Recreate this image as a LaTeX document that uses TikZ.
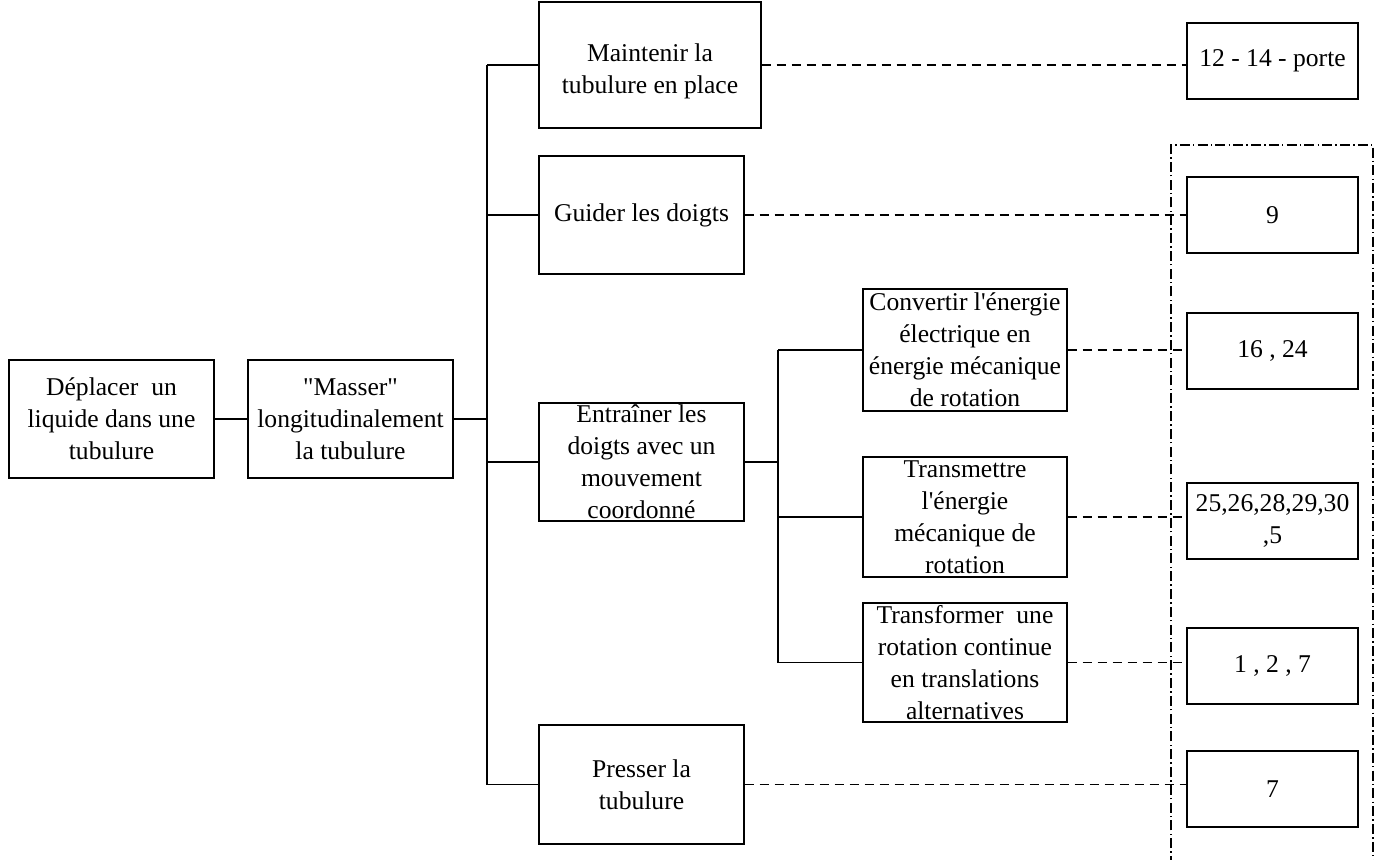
\documentclass[tikz,border=0pt]{standalone}
\usepackage{fontspec}
\setmainfont{Liberation Serif}[Ligatures=TeXOff]
\usepackage{tikz}
\usetikzlibrary{calc,positioning}
\tikzset{
 fa box/.style={draw=black,line width=.6pt,align=center,inner sep=0pt,
                font=\fontsize{12.8}{16}\selectfont},
 fa link/.style={line width=.6pt},
 fa dashed/.style={line width=.6pt,dash pattern=on 4.7pt off 2.8pt},
 fa frame/.style={line width=.6pt,dash pattern=on 5pt off 1.6pt on .7pt off 1.6pt}
}

\begin{document}
\begin{tikzpicture}[x=.5pt,y=-.5pt]
 \useasboundingbox (0,0) rectangle (1382,859);
 % main chain
 \node[fa box,minimum width=102.5pt,minimum height=59pt] (dep) at (111.5,419)
   {D\'eplacer\ \ un\\liquide dans une\\tubulure};
 \node[fa box,minimum width=102.5pt,minimum height=59pt] (mass) at (350.5,419)
   {"Masser"\\longitudinalement\\la tubulure};
 % first level functions
 \node[fa box,minimum width=111pt,minimum height=63pt] (maint) at (650,65)
   {\rule{0pt}{15pt}Maintenir la\\tubulure en place};
 \node[fa box,minimum width=102.5pt,minimum height=59pt] (guid) at (641.5,215)
   {Guider les doigts};
 \node[fa box,minimum width=102.5pt,minimum height=59pt] (entr) at (641.5,462)
   {Entra\^iner les\\doigts avec un\\mouvement\\coordonn\'e};
 \node[fa box,minimum width=102.5pt,minimum height=59.5pt] (press) at (641.5,784.5)
   {Presser la\\tubulure};
 % second level functions
 \node[fa box,minimum width=102pt,minimum height=61pt] (conv) at (965,350)
   {Convertir l'\'energie\\\'electrique en\\\'energie m\'ecanique\\de rotation};
 \node[fa box,minimum width=102pt,minimum height=60pt] (transm) at (965,517)
   {Transmettre\\l'\'energie\\m\'ecanique de\\rotation};
 \node[fa box,minimum width=102pt,minimum height=59.5pt] (transf) at (965,662.5)
   {Transformer\ \ une\\rotation continue\\en translations\\alternatives};
 % solutions
 \node[fa box,minimum width=85.5pt,minimum height=38pt] (sol1) at (1272.5,61) {12 - 14 - porte};
 \node[fa box,minimum width=85.5pt,minimum height=38pt] (sol2) at (1272.5,215) {9};
 \node[fa box,minimum width=85.5pt,minimum height=38pt] (sol3) at (1272.5,351) {16 , 24};
 \node[fa box,minimum width=85.5pt,minimum height=38pt] (sol4) at (1272.5,521) {25,26,28,29,30\\,5};
 \node[fa box,minimum width=85.5pt,minimum height=38pt] (sol5) at (1272.5,666) {1 , 2 , 7};
 \node[fa box,minimum width=85.5pt,minimum height=38pt] (sol6) at (1272.5,789) {7};

 \coordinate (tk1) at (487,0);
 \coordinate (tk2) at (778,0);
 \draw[fa link] (dep) -- (mass);
 \draw[fa link] (mass.east) -- (tk1 |- mass.east);
 \draw[fa link] (tk1 |- maint.west) -- (tk1 |- press.west);
 \foreach \f in {maint,guid,entr,press}
   \draw[fa link] (tk1 |- \f.west) -- (\f.west);
 \draw[fa link] (entr.east) -- (tk2 |- entr.east);
 \draw[fa link] (tk2 |- conv.west) -- (tk2 |- transf.west);
 \foreach \f in {conv,transm,transf}
   \draw[fa link] (tk2 |- \f.west) -- (\f.west);

 \foreach \f/\s in {maint/sol1,guid/sol2,conv/sol3,transm/sol4,transf/sol5,press/sol6}
   \draw[fa dashed] (\f.east) -- (\f.east -| \s.west);
 % frame round the solutions
 \draw[fa frame] (1171,866) |- (1373,145) -- (1373,866);
\end{tikzpicture}
\end{document}
